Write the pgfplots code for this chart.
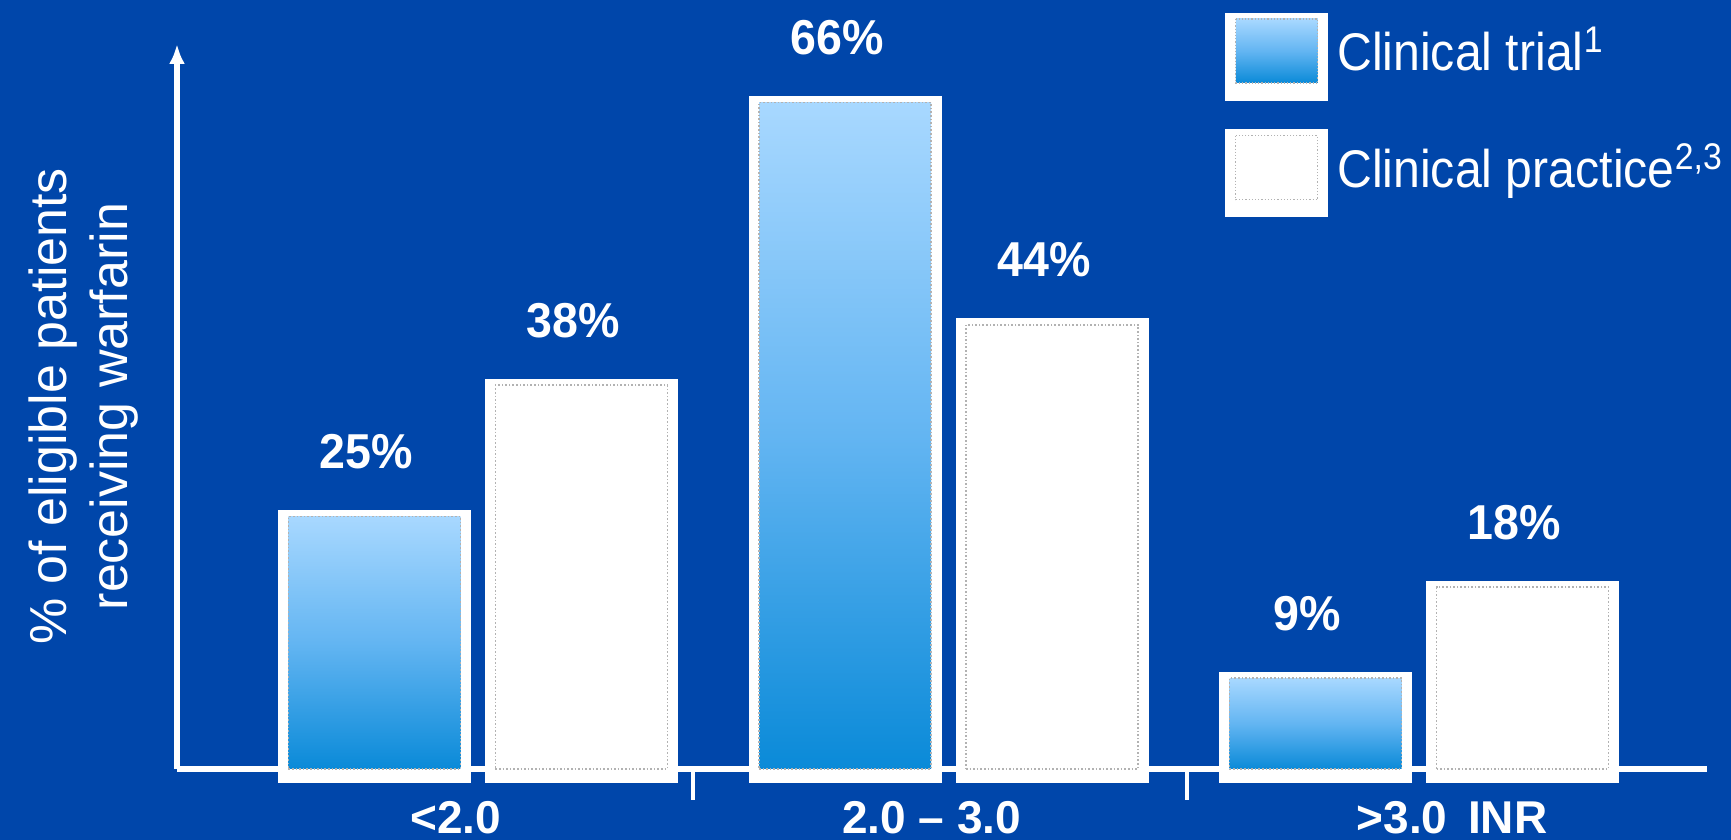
\documentclass[border=0pt]{standalone}
\usepackage{pgfplots}
\pgfplotsset{compat=1.18}
\usepackage{fontspec}
\setmainfont{Liberation Sans}
\newfontfamily\legendfont{Liberation Sans}[FakeStretch=0.91]
\newfontfamily\valuefont{Liberation Sans}[FakeStretch=0.95]
\usetikzlibrary{arrows.meta}
\definecolor{bg}{HTML}{0046AA}
\definecolor{barTop}{HTML}{A8D8FF}
\definecolor{barMid}{HTML}{63B5F2}
\definecolor{barBot}{HTML}{0A8AD8}
\pgfplotsset{
  framebar/.style={ybar, bar width=86pt, fill=white, draw=none, forget plot,
    preaction={fill=white, draw=white, line width=10.5pt, transform canvas={yshift=-2pt}}},
  bluebar/.style={ybar, bar width=86pt, bar shift=-51.75pt, draw=gray!60, line width=0.8pt, densely dotted,
    top color=barTop, bottom color=barBot, middle color=barMid, forget plot},
  valuelabel/.style={ybar, bar width=86pt, draw=none, fill=none, forget plot,
    nodes near coords={\pgfmathprintnumber[assume math mode=true]{\pgfplotspointmeta}\%},
    every node near coord/.append style={text=white, font=\valuefont\bfseries\fontsize{24.5}{29}\selectfont, inner sep=0pt, anchor=south, yshift=23.5pt, xshift=#1}},
}
\begin{document}
\begin{tikzpicture}
\fill[bg] (0,0) rectangle (865.5pt,420pt);
\useasboundingbox (0,0) rectangle (865.5pt,420pt);
\begin{axis}[
  at={(88.5pt,35.5pt)}, anchor=south west,
  scale only axis, width=765pt, height=362.5pt,
  xmin=0.3603, xmax=3.612, ymin=0, ymax=71.8,
  axis x line=bottom, axis y line=left,
  axis line style={white, line width=2.6pt},
  x axis line style={-},
  y axis line style={-{Latex[length=10pt,width=8pt]}},
  ytick=\empty,
  xtick={0.953,1.964,3.070},
  xticklabels={{<2.0},{2.0 – 3.0},{>3.0\hspace{0.45em}INR}},
  tick style={white, line width=2.4pt},
  major tick length=0pt,
  tick align=outside,
  xticklabel style={text=white, font=\bfseries\fontsize{23}{27}\selectfont, inner sep=0pt, anchor=north, yshift=-16pt},
  extra x ticks={1.457,2.507},
  extra x tick labels={},
  extra x tick style={major tick length=15.5pt, tick align=outside},
  clip=false,
  ylabel={\% of eligible patients\\receiving warfarin},
  ylabel style={at={(rel axis cs:-0.0610,0.5)}, anchor=center, align=center, text=white, font=\fontsize{26}{30.5}\selectfont},
  legend style={draw=none, fill=none, at={(axis cs:2.5876,74.95)}, anchor=north west, inner sep=0pt, row sep=14.5pt, column sep=4.5pt, text=white, font=\legendfont\fontsize{26.5}{30}\selectfont, nodes={inner sep=0pt}},
  legend cell align=left,
]
% white frames behind the bars
\addplot[framebar, bar shift=-51.75pt] coordinates {(1,25) (2,66) (3,9)};
\addplot[framebar, bar shift=51.75pt] coordinates {(1,38) (2,44) (3,18)};
% clinical trial bars (one plot per bar so that each bar has its own gradient)
\addplot[bluebar] coordinates {(1,25)};
\addplot[bluebar] coordinates {(2,66)};
\addplot[bluebar] coordinates {(3,9)};
% clinical practice bars
\addplot[ybar, bar width=86pt, bar shift=51.75pt, draw=gray!60, line width=0.8pt, densely dotted,
  fill=white, forget plot]
  coordinates {(1,38) (2,44) (3,18)};
% legend
\addlegendimage{legend image code/.code={
    \fill[white] (0pt,18.5pt) rectangle (51pt,-25pt);
    \shade[top color=barTop, bottom color=barBot, middle color=barMid, draw=gray!60, line width=0.6pt, densely dotted] (5pt,15.5pt) rectangle (46pt,-16.5pt);
  }}
\addlegendentry{Clinical trial\textsuperscript{1}}
\addlegendimage{legend image code/.code={
    \fill[white] (0pt,18.5pt) rectangle (51pt,-25pt);
    \draw[gray!60, line width=0.6pt, densely dotted] (5pt,15.5pt) rectangle (46pt,-16.5pt);
  }}
\addlegendentry{Clinical practice\textsuperscript{2,3}}
% value labels
\addplot[valuelabel=-55.75pt, bar shift=-51.75pt] coordinates {(1,25) (2,66) (3,9)};
\addplot[valuelabel=47.75pt, bar shift=51.75pt] coordinates {(1,38) (2,44) (3,18)};
\end{axis}
\end{tikzpicture}
\end{document}
